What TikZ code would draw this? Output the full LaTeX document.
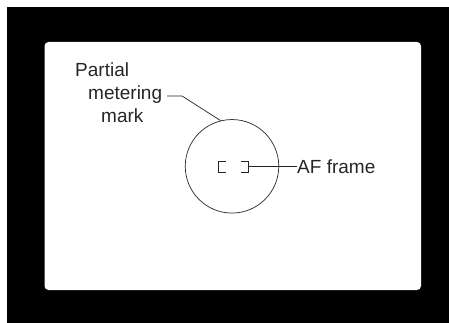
\documentclass[tikz,border=0pt]{standalone}
\usepackage{fontspec}
\setmainfont{Liberation Sans}
\begin{document}
\begin{tikzpicture}[x=1pt,y=-1pt,
  lbl/.style={inner sep=0pt,anchor=base west,font=\fontsize{19}{23}\selectfont,text=black!85},
  ink/.style={draw=black!85,line width=0.7pt}]
\useasboundingbox (0,0) rectangle (449,323);
\fill[white] (0,0) rectangle (449,323);
\fill[black] (7,7) rectangle (449,323);
\fill[white,rounded corners=4pt] (44.5,42) rectangle (421,290);
\node[ink,circle,minimum size=93.5pt,inner sep=0pt] (circ) at (232,166.3) {};
% AF frame brackets
\draw[ink] (225.5,161) -- (218,161) -- (218,172.5) -- (225.5,172.5);
\draw[ink] (240.5,161) -- (248,161) -- (248,172.5) -- (240.5,172.5);
\coordinate (afr) at (248,166.7);
\node[lbl] (af) at (297,173) {AF frame};
\draw[ink] (afr) -- (af.west |- afr);
% partial metering label
\node[lbl] (partial) at (75,77) {Partial};
\node[lbl] (metering) at (88,100) {metering};
\node[lbl] (mark) at (101,123) {mark};
\coordinate (lead) at (167,96);
\draw[ink] (lead) -- ++(15,0) -- (circ.104);
\end{tikzpicture}
\end{document}
